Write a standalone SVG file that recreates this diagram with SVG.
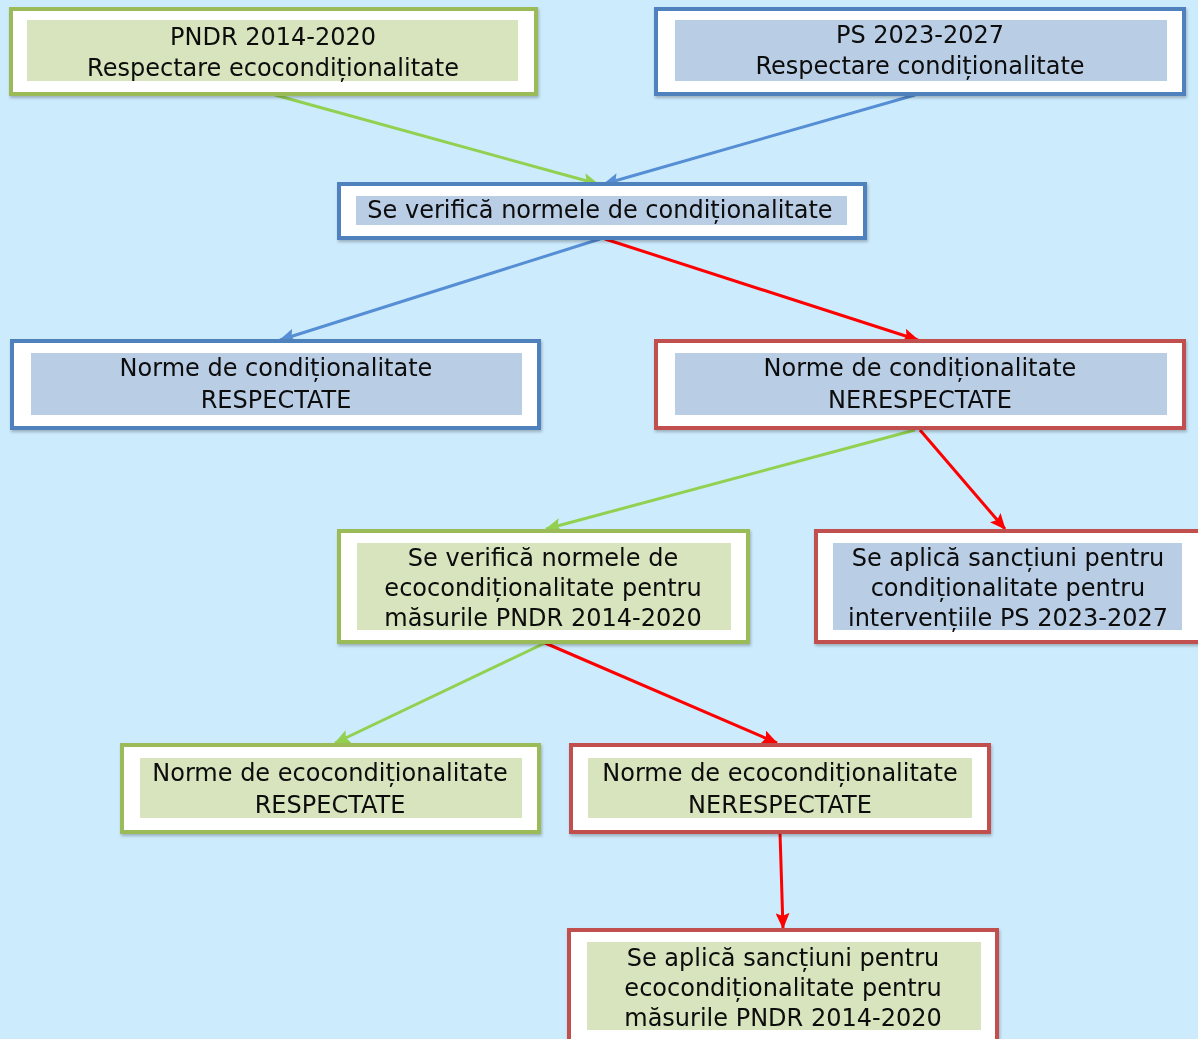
<svg xmlns="http://www.w3.org/2000/svg" width="1198" height="1039" viewBox="0 0 1198 1039">
<defs>
<style>
.box{fill:#ffffff;stroke-width:4}
.g{stroke:#9BBB59}
.b{stroke:#4F81BD}
.r{stroke:#C0504D}
.fg{fill:#D7E4BD}
.fb{fill:#B9CDE5}
text{font-family:"DejaVu Sans",Verdana,sans-serif;font-size:24px;fill:#0a0a0a;text-anchor:middle}
.c{fill:none;stroke-width:3}
</style>
<marker id="ag" viewBox="0 0 16 14" refX="15" refY="7" markerWidth="16" markerHeight="14" markerUnits="userSpaceOnUse" orient="auto"><path d="M0,0 L16,7 L0,14 L3,7 Z" fill="#92D050"/></marker>
<marker id="ab" viewBox="0 0 16 14" refX="15" refY="7" markerWidth="16" markerHeight="14" markerUnits="userSpaceOnUse" orient="auto"><path d="M0,0 L16,7 L0,14 L3,7 Z" fill="#558ED5"/></marker>
<marker id="ar" viewBox="0 0 16 14" refX="15" refY="7" markerWidth="16" markerHeight="14" markerUnits="userSpaceOnUse" orient="auto"><path d="M0,0 L16,7 L0,14 L3,7 Z" fill="#FF0000"/></marker>
<filter id="sh" x="-5%" y="-10%" width="110%" height="125%"><feDropShadow dx="1" dy="2" stdDeviation="1.5" flood-color="#000" flood-opacity="0.25"/></filter>
</defs>
<rect width="1198" height="1039" fill="#CCEBFD"/>

<g id="connectors">
<line class="c" x1="275" y1="95" x2="598" y2="184" stroke="#92D050" marker-end="url(#ag)"/>
<line class="c" x1="915" y1="95" x2="604" y2="184" stroke="#558ED5" marker-end="url(#ab)"/>
<line class="c" x1="600" y1="239" x2="280" y2="340" stroke="#558ED5" marker-end="url(#ab)"/>
<line class="c" x1="605" y1="239" x2="918" y2="340" stroke="#FF0000" marker-end="url(#ar)"/>
<line class="c" x1="915" y1="430" x2="546" y2="529" stroke="#92D050" marker-end="url(#ag)"/>
<line class="c" x1="920" y1="430" x2="1005" y2="529" stroke="#FF0000" marker-end="url(#ar)"/>
<line class="c" x1="545" y1="643" x2="335" y2="743" stroke="#92D050" marker-end="url(#ag)"/>
<line class="c" x1="545" y1="643" x2="777" y2="743" stroke="#FF0000" marker-end="url(#ar)"/>
<line class="c" x1="780" y1="833" x2="783" y2="928" stroke="#FF0000" marker-end="url(#ar)"/>
</g>

<g id="n1" filter="url(#sh)">
<rect class="box g" x="11" y="9" width="525" height="85"/>
<rect class="fg" x="27" y="20" width="491" height="61"/>
<text x="273" y="45">PNDR 2014-2020</text>
<text x="273" y="76">Respectare ecocondiționalitate</text>
</g>
<g id="n2" filter="url(#sh)">
<rect class="box b" x="656" y="9" width="528" height="85"/>
<rect class="fb" x="675" y="20" width="492" height="61"/>
<text x="920" y="43">PS 2023-2027</text>
<text x="920" y="74">Respectare condiționalitate</text>
</g>
<g id="n3" filter="url(#sh)">
<rect class="box b" x="339" y="184" width="526" height="54"/>
<rect class="fb" x="356" y="196" width="491" height="29"/>
<text x="600" y="218">Se verifică normele de condiționalitate</text>
</g>
<g id="n4" filter="url(#sh)">
<rect class="box b" x="12" y="341" width="527" height="87"/>
<rect class="fb" x="31" y="353" width="491" height="62"/>
<text x="276" y="376">Norme de condiționalitate</text>
<text x="276" y="408">RESPECTATE</text>
</g>
<g id="n5" filter="url(#sh)">
<rect class="box r" x="656" y="341" width="528" height="87"/>
<rect class="fb" x="675" y="353" width="492" height="62"/>
<text x="920" y="376">Norme de condiționalitate</text>
<text x="920" y="408">NERESPECTATE</text>
</g>
<g id="n6" filter="url(#sh)">
<rect class="box g" x="339" y="531" width="409" height="111"/>
<rect class="fg" x="357" y="543" width="374" height="87"/>
<text x="543" y="566">Se verifică normele de</text>
<text x="543" y="596">ecocondiționalitate pentru</text>
<text x="543" y="626">măsurile PNDR 2014-2020</text>
</g>
<g id="n7" filter="url(#sh)">
<rect class="box r" x="816" y="531" width="384" height="111"/>
<rect class="fb" x="833" y="543" width="349" height="87"/>
<text x="1008" y="566">Se aplică sancțiuni pentru</text>
<text x="1008" y="596">condiționalitate pentru</text>
<text x="1008" y="626">intervențiile PS 2023-2027</text>
</g>
<g id="n8" filter="url(#sh)">
<rect class="box g" x="122" y="745" width="417" height="87"/>
<rect class="fg" x="140" y="758" width="382" height="60"/>
<text x="330" y="781">Norme de ecocondiționalitate</text>
<text x="330" y="813">RESPECTATE</text>
</g>
<g id="n9" filter="url(#sh)">
<rect class="box r" x="571" y="745" width="418" height="87"/>
<rect class="fg" x="588" y="758" width="384" height="60"/>
<text x="780" y="781">Norme de ecocondiționalitate</text>
<text x="780" y="813">NERESPECTATE</text>
</g>
<g id="n10" filter="url(#sh)">
<rect class="box r" x="569" y="930" width="428" height="115"/>
<rect class="fg" x="587" y="942" width="394" height="88"/>
<text x="783" y="966">Se aplică sancțiuni pentru</text>
<text x="783" y="996">ecocondiționalitate pentru</text>
<text x="783" y="1026">măsurile PNDR 2014-2020</text>
</g>
</svg>
